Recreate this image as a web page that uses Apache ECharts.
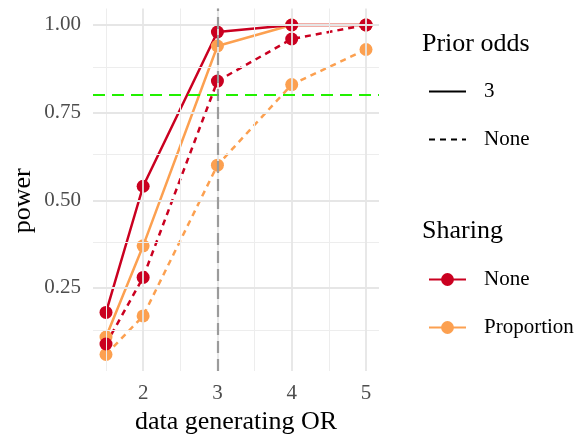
<!DOCTYPE html>
<html>
<head>
<meta charset="utf-8">
<script src="https://cdn.jsdelivr.net/npm/echarts@6/dist/echarts.min.js"></script>
<style>html,body{margin:0;padding:0;background:#fff}#c{width:584px;height:435px}</style>
</head>
<body>
<div id="c"></div>
<script>
// ---- data ----
const orValues = [1.5, 2, 3, 4, 5];
const noneSharingPrior3 = [0.18, 0.54, 0.98, 1.00, 1.00];
const noneSharingPriorNone = [0.09, 0.28, 0.84, 0.96, 1.00];
const propSharingPrior3 = [0.11, 0.37, 0.94, 1.00, 1.00];
const propSharingPriorNone = [0.06, 0.17, 0.60, 0.83, 0.93];
const xTickLabels = [2, 3, 4, 5];
const xMinorBreaks = [1.5, 2.5, 3.5, 4.5];
const yTickLabels = [0.25, 0.50, 0.75, 1.00];
const yMinorBreaks = [0.125, 0.375, 0.625, 0.875];
const powerTarget = 0.8;
const orReference = 3;

const RED = '#CA0020', ORANGE = '#FCA050';
const FONT = '"Liberation Serif", "DejaVu Serif", serif';
const LW = 2.5;

function pts(ys) { return orValues.map((x, i) => [x, ys[i]]); }
const legendNames = { po3: '3', poNone: 'None', shNone: 'None', shProp: 'Proportion' };

const gridMajorLine = { color: '#E6E6E6', width: 1.8, type: 'solid' };
const gridMinorLine = { color: '#EDEDED', width: 1, type: 'solid' };

const legendText = { fontFamily: FONT, fontSize: 21, color: '#000', lineHeight: 20, padding: [0, 0, 0, 13] };

const chart = echarts.init(document.getElementById('c'), null, { renderer: 'canvas' });
const option = {
  backgroundColor: '#fff',
  animation: false,
  textStyle: { fontFamily: FONT },
  title: [
    { text: 'Prior odds', left: 422, top: 31, padding: 0,
      textStyle: { fontFamily: FONT, fontSize: 26, fontWeight: 'normal', color: '#000' } },
    { text: 'Sharing', left: 422, top: 218, padding: 0,
      textStyle: { fontFamily: FONT, fontSize: 26, fontWeight: 'normal', color: '#000' } }
  ],
  legend: [
    { data: [{ name: 'po3', itemStyle: { opacity: 0 } }, { name: 'poNone', itemStyle: { opacity: 0 } }],
      orient: 'vertical', left: 428, top: 81, padding: 0,
      itemWidth: 37, itemHeight: 16, itemGap: 27, formatter: n => legendNames[n], textStyle: legendText },
    { data: ['shNone', 'shProp'], orient: 'vertical', left: 428, top: 269, padding: 0,
      itemWidth: 37, itemHeight: 16, itemGap: 27, formatter: n => legendNames[n], textStyle: legendText }
  ],
  grid: { left: 93, right: 205, top: 8.5, bottom: 64, containLabel: false, outerBoundsMode: 'none' },
  xAxis: {
    type: 'value', min: 1.325, max: 5.175,
    name: 'data generating OR', nameLocation: 'middle', nameGap: 34,
    nameTextStyle: { fontFamily: FONT, fontSize: 26, color: '#000' },
    axisLine: { show: false }, axisTick: { show: false }, splitLine: { show: false },
    axisLabel: { customValues: xTickLabels, fontFamily: FONT, fontSize: 21, color: '#4D4D4D', margin: 12 }
  },
  yAxis: {
    type: 'value', min: 0.013, max: 1.047,
    name: 'power', nameLocation: 'middle', nameGap: 57,
    nameTextStyle: { fontFamily: FONT, fontSize: 26, color: '#000', padding: [0, 22, 0, 0] },
    axisLine: { show: false }, axisTick: { show: false }, splitLine: { show: false },
    axisLabel: { customValues: yTickLabels, fontFamily: FONT, fontSize: 21, color: '#4D4D4D', margin: 12,
      formatter: v => v.toFixed(2) }
  },
  series: [
    { name: 'grid', type: 'line', data: [], z: 1, silent: true,
      markLine: { silent: true, symbol: ['none', 'none'], label: { show: false }, animation: false,
        data: [].concat(
          xMinorBreaks.map(v => ({ xAxis: v, lineStyle: gridMinorLine })),
          yMinorBreaks.map(v => ({ yAxis: v, lineStyle: gridMinorLine })),
          xTickLabels.map(v => ({ xAxis: v, lineStyle: gridMajorLine })),
          yTickLabels.map(v => ({ yAxis: v, lineStyle: gridMajorLine }))
        ) } },
    { name: 'Proportion|None', type: 'line', data: pts(propSharingPriorNone), z: 2,
      symbol: 'circle', symbolSize: 13, itemStyle: { color: ORANGE },
      lineStyle: { color: ORANGE, width: LW, type: [6, 5] } },
    { name: 'Proportion|3', type: 'line', data: pts(propSharingPrior3), z: 2,
      symbol: 'circle', symbolSize: 13, itemStyle: { color: ORANGE },
      lineStyle: { color: ORANGE, width: LW, type: 'solid' } },
    { name: 'None|None', type: 'line', data: pts(noneSharingPriorNone), z: 2,
      symbol: 'circle', symbolSize: 13, itemStyle: { color: RED },
      lineStyle: { color: RED, width: LW, type: [6, 5] } },
    { name: 'None|3', type: 'line', data: pts(noneSharingPrior3), z: 2,
      symbol: 'circle', symbolSize: 13, itemStyle: { color: RED },
      lineStyle: { color: RED, width: LW, type: 'solid' } },
    { name: 'ref', type: 'line', data: [], z: 3, silent: true,
      markLine: { silent: true, symbol: ['none', 'none'], label: { show: false }, animation: false,
        data: [
          { yAxis: powerTarget, lineStyle: { color: '#22F000', width: 2.2, type: [12, 7] } },
          { xAxis: orReference, lineStyle: { color: 'rgba(130,130,130,0.75)', width: 2.2, type: [12, 6] } }
        ] } },
    // legend-only series
    { name: 'po3', type: 'line', data: [], symbol: 'none', itemStyle: { color: '#000' },
      lineStyle: { color: '#000', width: 2.6, type: 'solid' } },
    { name: 'poNone', type: 'line', data: [], symbol: 'none', itemStyle: { color: '#000' },
      lineStyle: { color: '#000', width: 2.6, type: [6, 5] } },
    { name: 'shNone', type: 'line', data: [], symbol: 'circle', symbolSize: 13, itemStyle: { color: RED },
      lineStyle: { color: RED, width: LW } },
    { name: 'shProp', type: 'line', data: [], symbol: 'circle', symbolSize: 13, itemStyle: { color: ORANGE },
      lineStyle: { color: ORANGE, width: LW } }
  ]
};
chart.setOption(option);
</script>
</body>
</html>
